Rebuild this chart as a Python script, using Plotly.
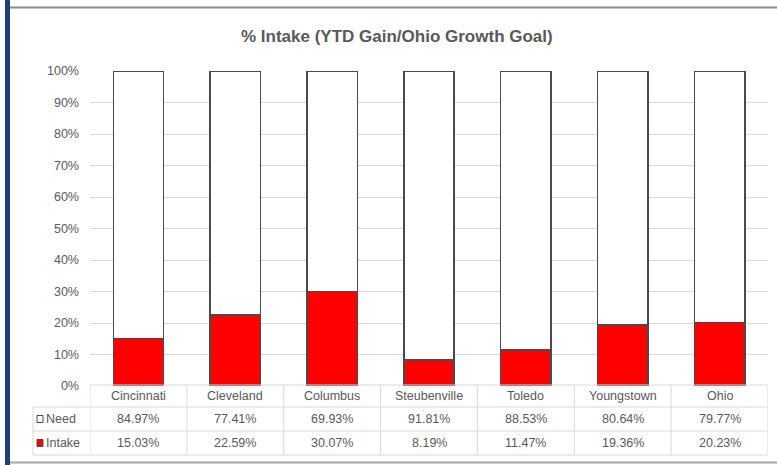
import plotly.graph_objects as go

categories = ["Cincinnati", "Cleveland", "Columbus", "Steubenville", "Toledo", "Youngstown", "Ohio"]
intake = [15.03, 22.59, 30.07, 8.19, 11.47, 19.36, 20.23]
need = [84.97, 77.41, 69.93, 91.81, 88.53, 80.64, 79.77]
title_text = "% Intake (YTD Gain/Ohio Growth Goal)"
tick_vals = [0, 10, 20, 30, 40, 50, 60, 70, 80, 90, 100]
tick_text = [f"{v}%" for v in tick_vals]

FONT = "Liberation Sans Narrow, Arial Narrow, Liberation Sans, Arial, sans-serif"
TXT = "#595959"
GRID = "#d9d9d9"
EDGE = "#4a4a4a"

fig = go.Figure()
fig.add_trace(go.Bar(x=categories, y=intake, name="Intake", width=0.52,
                     marker=dict(color="#ff0000", line=dict(color=EDGE, width=1.5))))
fig.add_trace(go.Bar(x=categories, y=need, name="Need", width=0.52,
                     marker=dict(color="#ffffff", line=dict(color=EDGE, width=1.5))))

W, H = 777, 465
L, R, T, B = 90, 9, 71, 79
ph = H - T - B

def py(ypx):
    return (H - B - ypx) / ph

def px(xpx):
    return (xpx - L) / (W - L - R)

shapes = []
ann = []
n = len(categories)
y_top, y1, y2, y3 = py(385), py(407), py(431), py(455)
x_leg = px(33)
shapes.append(dict(type="line", xref="paper", yref="paper", x0=0, x1=1, y0=y_top, y1=y_top, line=dict(color=GRID, width=1)))
for yy in (y1, y2, y3):
    shapes.append(dict(type="line", xref="paper", yref="paper", x0=x_leg, x1=1, y0=yy, y1=yy, line=dict(color=GRID, width=1)))
shapes.append(dict(type="line", xref="paper", yref="paper", x0=x_leg, x1=x_leg, y0=y1, y1=y3, line=dict(color=GRID, width=1)))
for i in range(n + 1):
    shapes.append(dict(type="line", xref="x", yref="paper", x0=i - 0.5, x1=i - 0.5, y0=y_top, y1=y3, line=dict(color=GRID, width=1)))

yc_head, yc_need, yc_int = py(396), py(419), py(443)
cell_font = dict(family=FONT, size=12.5, color=TXT)
for i, c in enumerate(categories):
    for txt, yc in ((c, yc_head), (f"{need[i]:.2f}%", yc_need), (f"{intake[i]:.2f}%", yc_int)):
        ann.append(dict(x=c, xref="x", y=yc, yref="paper", text=txt, showarrow=False,
                        xanchor="center", yanchor="middle", font=cell_font))

for name, yc, col in (("Need", yc_need, "#ffffff"), ("Intake", yc_int, "#ff0000")):
    shapes.append(dict(type="rect", xref="paper", yref="paper",
                       x0=px(37), x1=px(43), y0=yc - 3.5 / ph, y1=yc + 3.5 / ph,
                       fillcolor=col, line=dict(color=EDGE, width=1)))
    ann.append(dict(x=px(44), xref="paper", y=yc, yref="paper", text=name, showarrow=False,
                    xanchor="left", yanchor="middle", font=dict(family=FONT, size=12.5, color=TXT)))

shapes.append(dict(type="line", xref="paper", yref="paper", x0=px(10), x1=px(777), y0=py(7.5), y1=py(7.5),
                   line=dict(color="#8c8c8c", width=2)))
shapes.append(dict(type="line", xref="paper", yref="paper", x0=px(10), x1=px(777), y0=py(462.5), y1=py(462.5),
                   line=dict(color="#a6a6a6", width=2)))
shapes.append(dict(type="line", xref="paper", yref="paper", x0=px(7.5), x1=px(7.5), y0=py(0), y1=py(465),
                   line=dict(color="#1f3f7a", width=5)))

ann.append(dict(x=px(397), xref="paper", y=py(37), yref="paper", text=f"<b>{title_text}</b>", showarrow=False,
                xanchor="center", yanchor="middle", font=dict(family=FONT, size=17, color=TXT)))

fig.update_layout(
    width=W, height=H, margin=dict(l=L, r=R, t=T, b=B),
    barmode="stack", showlegend=False,
    paper_bgcolor="white", plot_bgcolor="white",
    shapes=shapes, annotations=ann,
    xaxis=dict(range=[-0.5, n - 0.5], showticklabels=False, showgrid=False, zeroline=False, fixedrange=True),
    yaxis=dict(range=[0, 100], tickvals=tick_vals, ticktext=tick_text, showgrid=True, gridcolor=GRID,
               gridwidth=1, zeroline=False, ticklabelstandoff=10,
               tickfont=dict(family=FONT, size=12.5, color=TXT)),
    font=dict(family=FONT, color=TXT),
)
fig.write_html("out.html", config={"displayModeBar": False},
               post_script="document.body.style.margin='0';document.body.style.padding='0';")
